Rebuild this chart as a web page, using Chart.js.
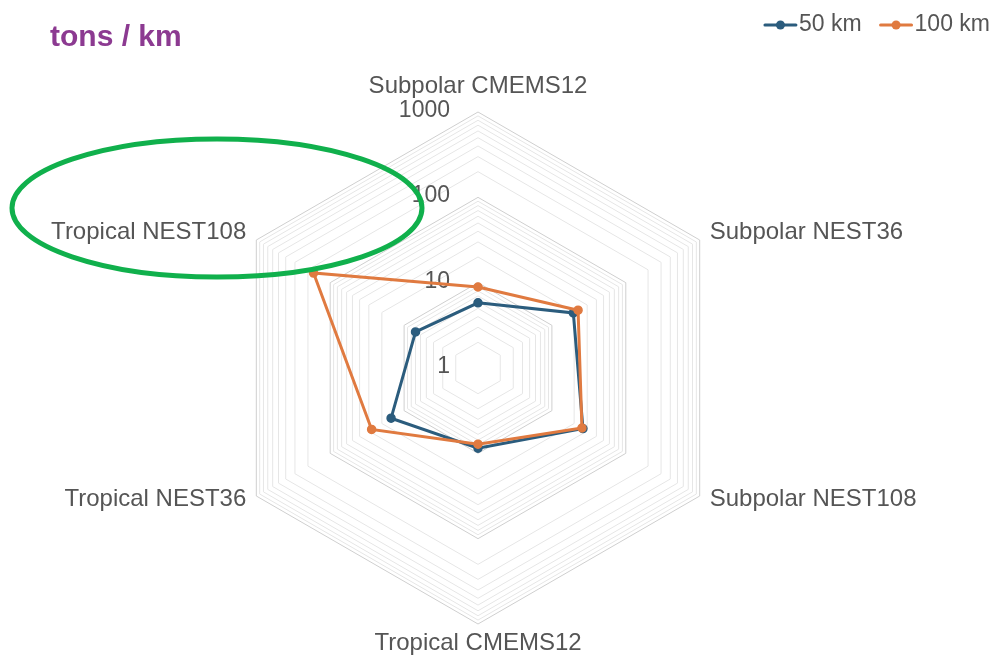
<!DOCTYPE html>
<html>
<head>
<meta charset="utf-8">
<script src="https://cdn.jsdelivr.net/npm/chart.js@4.4.1/dist/chart.umd.min.js"></script>
<style>
  html, body { margin: 0; padding: 0; background: #ffffff; }
  #wrap { width: 1000px; height: 662px; position: relative; }
</style>
</head>
<body>
<div id="wrap"><canvas id="c"></canvas></div>
<script>
// ---- data ----
const categories = ['Subpolar CMEMS12', 'Subpolar NEST36', 'Subpolar NEST108', 'Tropical CMEMS12', 'Tropical NEST36', 'Tropical NEST108'];
const series50km = [5.8, 19.5, 26.3, 8.7, 15.0, 7.0];
const series100km = [8.9, 22.6, 25.5, 7.8, 27.5, 168];
const seriesNames = ['50 km', '100 km'];
const tickValues = [1, 10, 100, 1000];
const tickLabels = ['1', '10', '100', '1000'];
const titleText = 'tons / km';

const FONT = '"Liberation Sans", Arial, Helvetica, sans-serif';
const TEXT_COLOR = '#555555';
const BLUE = '#2b5c7d';
const ORANGE = '#e07a40';

// log grid values (1..1000): 1,2..9,10,20..90,100,200..900,1000
const gridValues = [];
for (let d = 0; d < 3; d++) {
  for (let m = 1; m < 10; m++) gridValues.push(m * Math.pow(10, d));
}
gridValues.push(1000);

const isDecade = v => Math.abs(v - Math.round(v)) < 1e-9;

const decor = {
  id: 'decor',
  beforeDatasetsDraw(chart) {
    const ctx = chart.ctx;
    const s = chart.scales.r;
    ctx.save();
    // point labels
    ctx.font = '24px ' + FONT;
    ctx.fillStyle = TEXT_COLOR;
    ctx.textBaseline = 'middle';
    chart.data.labels.forEach((lab, i) => {
      const p = s.getPointPosition(i, s.drawingArea);
      const deg = Math.round((((p.angle + Math.PI / 2) * 180 / Math.PI) % 360 + 360) % 360);
      let x = p.x, y = p.y, align = 'center';
      if (deg === 0) { y -= 25.5; }
      else if (deg === 180) { y += 19; }
      else if (deg < 180) { align = 'left'; x += 10; y += (deg < 90 ? -7.5 : 3); }
      else { align = 'right'; x -= 10; y += (deg > 270 ? -7.5 : 3); }
      ctx.textAlign = align;
      ctx.fillText(lab, x, y);
    });
    // radial tick labels (right aligned, left of the vertical axis)
    ctx.font = '23px ' + FONT;
    ctx.textAlign = 'right';
    tickValues.forEach((v, i) => {
      const r = s.getDistanceFromCenterForValue(Math.log10(v));
      ctx.fillText(tickLabels[i], s.xCenter - 28, s.yCenter - r - 1.5);
    });
    ctx.restore();
  },
  afterDraw(chart) {
    const ctx = chart.ctx;
    ctx.save();
    // legend (line with dot + text), right aligned
    ctx.font = '23px ' + FONT;
    ctx.textBaseline = 'middle';
    ctx.textAlign = 'left';
    const lineLen = 33, gapText = 2, gapItem = 18;
    const items = chart.data.datasets.map(ds => ({
      label: ds.label, color: ds.borderColor, w: ctx.measureText(ds.label).width
    }));
    let total = 0;
    items.forEach((it, i) => { total += lineLen + gapText + it.w + (i ? gapItem : 0); });
    let x = 990 - total;
    const ly = 25;
    items.forEach((it, i) => {
      if (i) x += gapItem;
      ctx.strokeStyle = it.color;
      ctx.lineWidth = 3;
      ctx.lineCap = 'round';
      ctx.beginPath();
      ctx.moveTo(x + 1, ly);
      ctx.lineTo(x + lineLen - 1, ly);
      ctx.stroke();
      ctx.fillStyle = it.color;
      ctx.beginPath();
      ctx.arc(x + lineLen / 2, ly, 4.5, 0, Math.PI * 2);
      ctx.fill();
      x += lineLen + gapText;
      ctx.fillStyle = TEXT_COLOR;
      ctx.fillText(it.label, x, 24.5);
      x += it.w;
    });
    // green highlight ellipse
    ctx.strokeStyle = '#10b04c';
    ctx.lineWidth = 5;
    ctx.beginPath();
    ctx.ellipse(217, 208, 205, 69, 0, 0, Math.PI * 2);
    ctx.stroke();
    ctx.restore();
  }
};

new Chart(document.getElementById('c'), {
  type: 'radar',
  data: {
    labels: categories,
    datasets: [
      {
        label: seriesNames[0],
        data: series50km.map(v => Math.log10(v)),
        borderColor: BLUE,
        backgroundColor: BLUE,
        pointBackgroundColor: BLUE,
        pointBorderColor: BLUE,
        borderWidth: 3,
        pointRadius: 4,
        pointBorderWidth: 1.5,
        fill: false,
        order: 1
      },
      {
        label: seriesNames[1],
        data: series100km.map(v => Math.log10(v)),
        borderColor: ORANGE,
        backgroundColor: ORANGE,
        pointBackgroundColor: ORANGE,
        pointBorderColor: ORANGE,
        borderWidth: 3,
        pointRadius: 4,
        pointBorderWidth: 1.5,
        fill: false,
        order: 0
      }
    ]
  },
  options: {
    responsive: true,
    maintainAspectRatio: false,
    animation: false,
    layout: { padding: { top: 0, left: 50, right: 94, bottom: 38 } },
    elements: { line: { tension: 0 } },
    plugins: {
      legend: { display: false },
      tooltip: { enabled: false },
      title: {
        display: true,
        text: titleText,
        align: 'start',
        color: '#8c3a91',
        font: { family: FONT, size: 30, weight: 'bold', lineHeight: 1.2 },
        padding: { top: 20, bottom: 56 }
      }
    },
    scales: {
      r: {
        min: 0,
        max: 3,
        afterBuildTicks: (scale) => {
          scale.ticks = gridValues.map(v => ({ value: Math.log10(v) }));
        },
        ticks: { display: false },
        pointLabels: { display: false },
        angleLines: { display: false },
        grid: {
          lineWidth: 1,
          color: (c) => (c.tick && isDecade(c.tick.value)) ? '#cfcfcf' : '#e6e6e6'
        }
      }
    }
  },
  plugins: [decor]
});
</script>
</body>
</html>
